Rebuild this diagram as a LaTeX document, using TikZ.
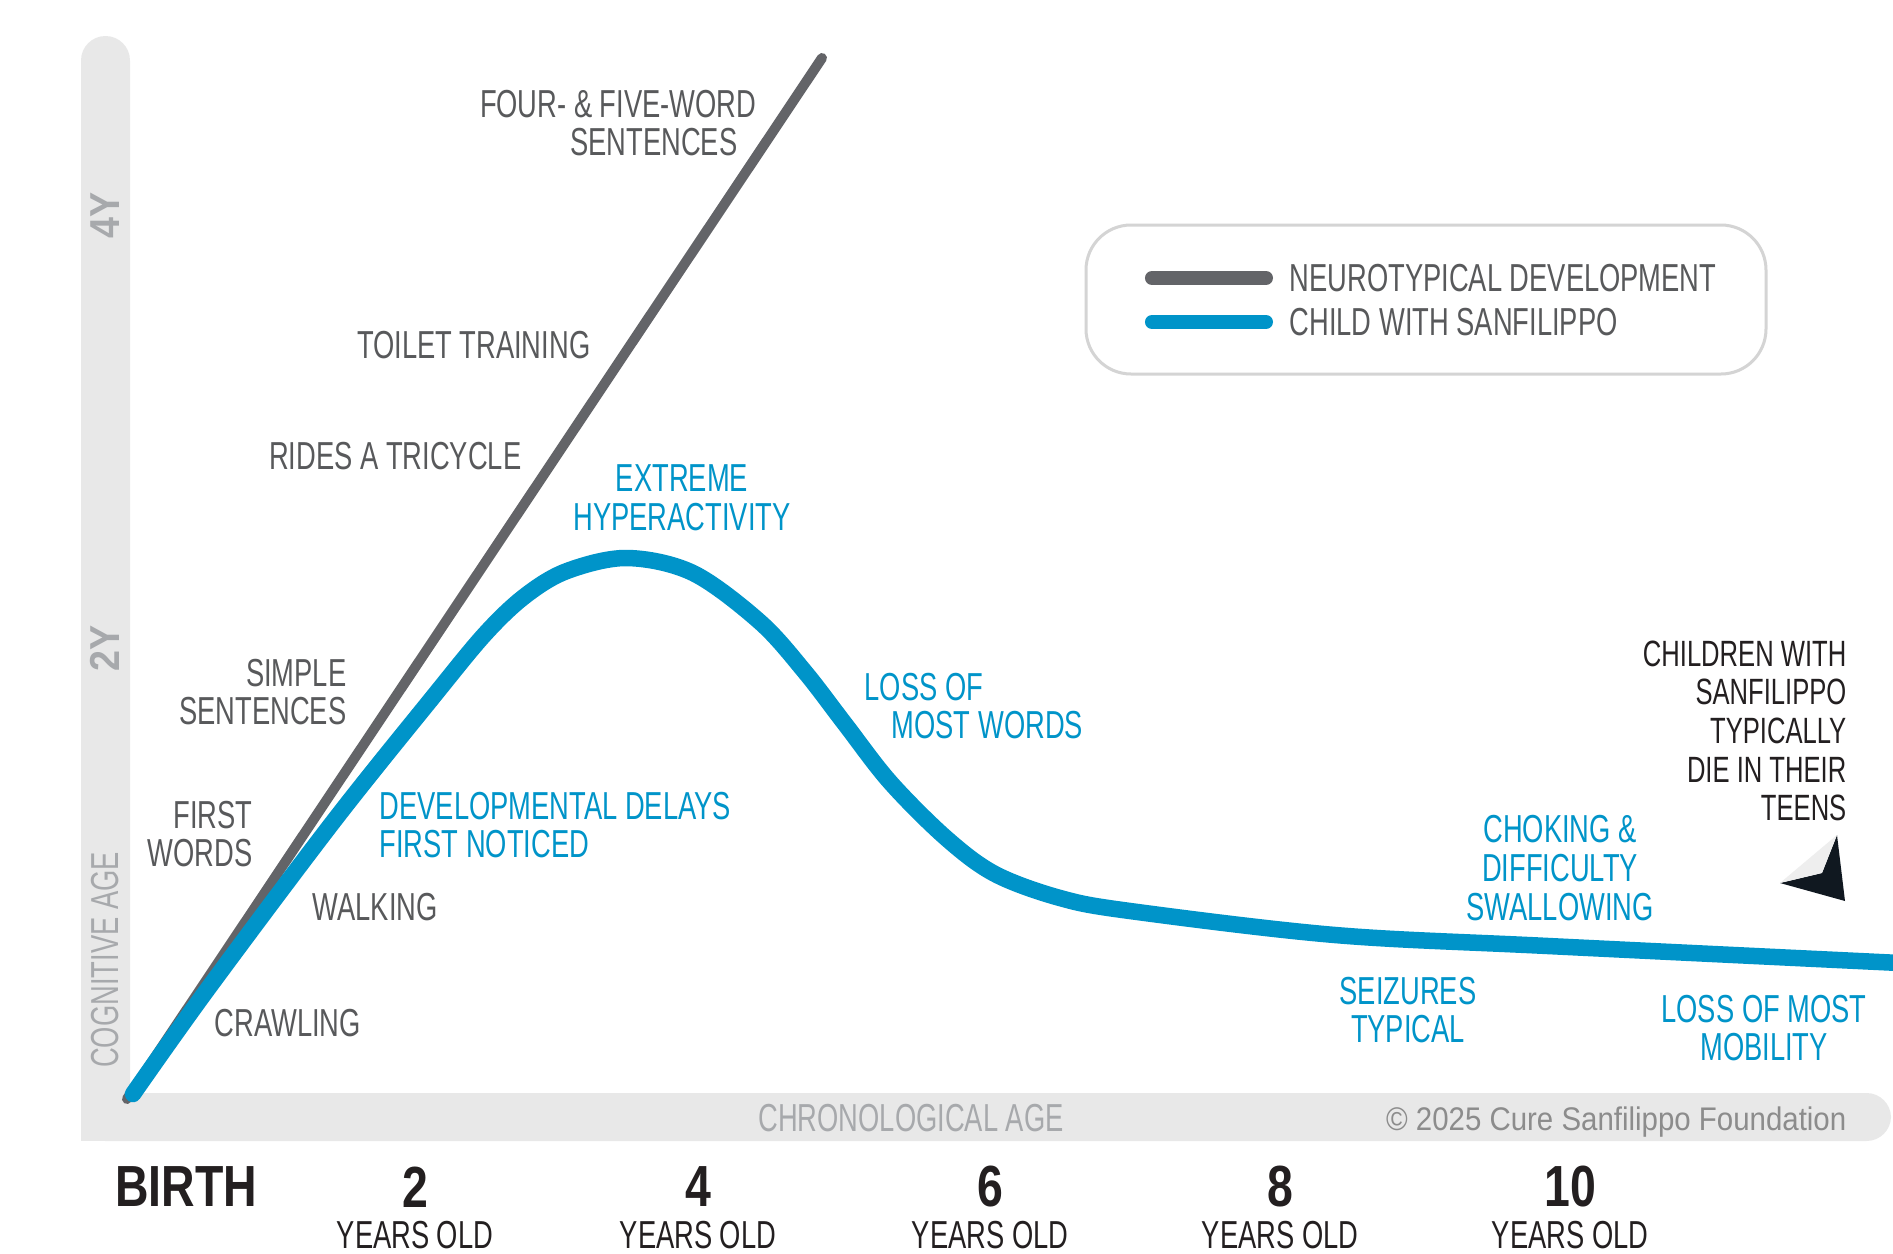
\documentclass[tikz,border=0pt]{standalone}
\usepackage{fontspec}
\usepackage{tikz}
\newfontfamily\condfont{Liberation Sans}[FakeStretch=0.7]
\newfontfamily\numfont{Liberation Sans}[FakeStretch=0.8]
\newfontfamily\semifont{Liberation Sans}[FakeStretch=0.9]
\definecolor{neurogray}{RGB}{99,100,104}
\definecolor{labelgray}{RGB}{88,89,91}
\definecolor{sanblue}{RGB}{0,148,201}
\definecolor{bargray}{RGB}{232,232,232}
\definecolor{axisgray}{RGB}{167,169,172}
\definecolor{copygray}{RGB}{140,140,140}
\definecolor{boxgray}{RGB}{212,212,212}
\definecolor{inkblack}{RGB}{35,31,32}
\definecolor{arrowdark}{RGB}{16,24,32}
\definecolor{arrowlight}{RGB}{238,238,238}

\begin{document}
\begin{tikzpicture}[x=0.01cm, y=-0.01cm,
  milestone/.style={font=\condfont\fontsize{11.1}{11}\selectfont, text=labelgray, inner sep=0pt},
  symptom/.style={font=\condfont\fontsize{11.1}{11}\selectfont, text=sanblue, inner sep=0pt},
  axislabel/.style={font=\condfont\fontsize{11.1}{11}\selectfont, text=axisgray, inner sep=0pt},
  agenum/.style={font=\numfont\bfseries\fontsize{16.5}{16}\selectfont, text=inkblack, inner sep=0pt},
  ageunit/.style={font=\condfont\fontsize{11.1}{11}\selectfont, text=inkblack, inner sep=0pt},
  yearmark/.style={font=\semifont\bfseries\fontsize{11.9}{12}\selectfont, text=axisgray, inner sep=0pt, rotate=90},
  neuroline/.style={line width=0.1cm, neurogray, line cap=round},
  sanline/.style={line width=0.165cm, sanblue, line cap=round, line join=round},
  keyline/.style={line width=0.14cm, line cap=round}]

\fill[white] (0,0) rectangle (1893,1254);
\useasboundingbox (0,0) rectangle (1893,1254);

\fill[bargray, rounded corners=0.245cm] (81,36) rectangle (130,1141);
\fill[bargray, rounded corners=0.245cm] (81,1093) rectangle (1891,1141);
\fill[bargray] (81,1093) rectangle (160,1141);

\node[yearmark] (fouryear) at (105,215) {4Y};
\node[yearmark] (twoyear) at (105,648) {2Y};
\node[axislabel, rotate=90] (cogage) at (105,960) {COGNITIVE AGE};
\node[axislabel] (chronage) at (911,1118) {CHRONOLOGICAL AGE};
\node[font=\semifont\fontsize{9.3}{10}\selectfont, text=copygray, anchor=base east, inner sep=0pt] (copyright) at (1847,1130) {© 2025 Cure Sanfilippo Foundation};

\coordinate (start) at (127,1099);
\coordinate (neurotop) at (822,58);
\draw[neuroline] (start) -- (neurotop);
\draw[sanline] plot[smooth, tension=0.55] coordinates {(133,1094) (207,990) (333,822) (433,697) (485,634) (525,596) (567,571) (627,558) (693,573) (760,622) (805,672) (845,724) (890,782) (946,838) (995,874) (1060,898) (1130,911) (1335,935) (1548,946) (1900,963)};

\node[milestone, anchor=east, align=right] (fivewords) at (757,123) {FOUR- \& FIVE-WORD\\SENTENCES\kern0.19cm};
\node[milestone, anchor=east] (toilet) at (591,345) {TOILET TRAINING};
\node[milestone, anchor=east] (tricycle) at (522,456) {RIDES A TRICYCLE};
\node[milestone, anchor=east, align=right] (simple) at (347,692) {SIMPLE\\SENTENCES};
\node[milestone, anchor=east, align=right] (firstwords) at (253,834) {FIRST\\WORDS};
\node[milestone, anchor=west] (walking) at (312,907) {WALKING};
\node[milestone, anchor=west] (crawling) at (214,1023) {CRAWLING};

\node[symptom, align=center] (hyper) at (682,498) {EXTREME\\HYPERACTIVITY};
\node[symptom, anchor=west, align=left] (delays) at (379,825) {DEVELOPMENTAL DELAYS\\FIRST NOTICED};
\node[symptom, anchor=west, align=left] (lostwords) at (864,706) {LOSS OF\\\hspace*{0.27cm}MOST WORDS};
\node[symptom, align=center] (choking) at (1560,868) {CHOKING \&\\DIFFICULTY\\SWALLOWING};
\node[symptom, align=center] (seizures) at (1408,1010) {SEIZURES\\TYPICAL};
\node[symptom, align=center] (mobility) at (1764,1028) {LOSS OF MOST\\MOBILITY};
\node[ageunit, font=\condfont\fontsize{10.4}{11}\selectfont, anchor=east, align=right] (teens) at (1847,731) {CHILDREN WITH\\SANFILIPPO\\TYPICALLY\\DIE IN THEIR\\TEENS};

\coordinate (tip) at (1837,835);
\coordinate (lwing) at (1780,883);
\coordinate (rwing) at (1845,901);
\coordinate (notch) at (1822,873);
\fill[arrowdark] (tip) -- (rwing) -- (lwing) -- (notch) -- cycle;
\fill[arrowlight] (tip) -- (lwing) -- (notch) -- cycle;

\draw[boxgray, line width=0.03cm, rounded corners=0.45cm] (1086,225) rectangle (1766,374);
\node[milestone, anchor=west] (keyneuro) at (1289,278) {NEUROTYPICAL DEVELOPMENT};
\node[milestone, anchor=west] (keysan) at (1289,322) {CHILD WITH SANFILIPPO};
\draw[keyline, neurogray] ([xshift=-0.23cm]keyneuro.west) -- ++(-114,0);
\draw[keyline, sanblue] ([xshift=-0.23cm]keysan.west) -- ++(-114,0);

\node[agenum] (birthlabel) at (186,1187) {BIRTH};
\foreach \age/\xpos in {2/415, 4/698, 6/990, 8/1280, 10/1570} {
  \node[agenum] (age\age) at (\xpos,1187) {\age};
  \node[ageunit] (unit\age) at (\xpos,1235) {YEARS OLD};
}
\end{tikzpicture}
\end{document}
